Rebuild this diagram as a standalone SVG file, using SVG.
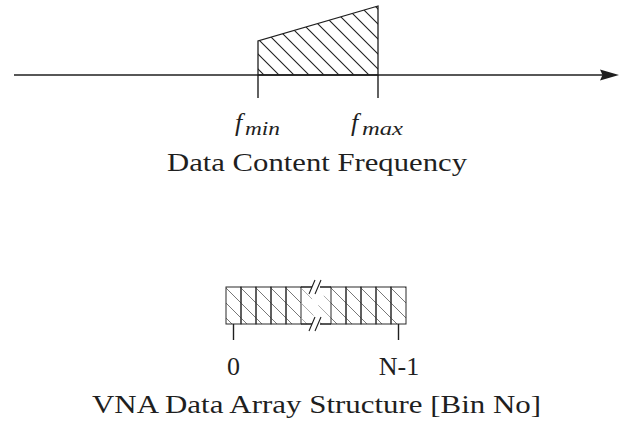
<svg xmlns="http://www.w3.org/2000/svg" width="632" height="427" viewBox="0 0 632 427">
<style>
.ln{stroke:#1f1f1f;stroke-width:1.4;fill:none}
.cell{stroke:#2a2a2a;stroke-width:1;fill:url(#hatchA)}
.txt{font-family:"Liberation Serif","Times New Roman",serif;font-size:26px;fill:#1f1f1f}
.mi{font-family:"Liberation Serif","Times New Roman",serif;font-style:italic;fill:#1f1f1f}
</style>
<defs>
<pattern id="hatchT" patternUnits="userSpaceOnUse" x="9" y="0" width="15" height="15">
<path d="M-3,-3 L18,18 M-3,12 L3,18 M12,-3 L18,3" stroke="#1f1f1f" stroke-width="1.1"/>
</pattern>
<pattern id="hatchA" patternUnits="userSpaceOnUse" x="13" y="0" width="15" height="15">
<path d="M-3,-3 L18,18 M-3,12 L3,18 M12,-3 L18,3" stroke="#555" stroke-width="0.8"/>
</pattern>
<pattern id="hatchG" patternUnits="userSpaceOnUse" x="13" y="0" width="15" height="15">
<path d="M-3,-3 L18,18 M-3,12 L3,18 M12,-3 L18,3" stroke="#999" stroke-width="0.8"/>
</pattern>
</defs>

<g id="connectors">
<line class="ln" x1="14" y1="75" x2="603" y2="75" stroke-width="1.6"/>
<path d="M619,75 L600,69.5 L602.5,75 L600,80.5 Z" fill="#1f1f1f"/>
<line class="ln" x1="258" y1="75" x2="258" y2="98"/>
<line class="ln" x1="378" y1="75" x2="378" y2="98"/>
</g>

<g id="spectrum">
<polygon points="258,75 258,41 378,6 378,75" fill="url(#hatchT)" stroke="#1f1f1f" stroke-width="1.3"/>
</g>

<g id="label-fmin">
<text class="mi" x="235" y="131" font-size="26">f</text>
<text class="mi" x="245" y="135" font-size="18" textLength="35" lengthAdjust="spacingAndGlyphs">min</text>
</g>
<g id="label-fmax">
<text class="mi" x="351" y="131" font-size="26">f</text>
<text class="mi" x="362" y="135" font-size="18" textLength="41" lengthAdjust="spacingAndGlyphs">max</text>
</g>
<g id="title-freq">
<text class="txt" x="167" y="171" textLength="300" lengthAdjust="spacingAndGlyphs">Data Content Frequency</text>
</g>

<g id="array">
<rect x="226" y="287" width="15" height="37" class="cell"/>
<rect x="241" y="287" width="15" height="37" class="cell"/>
<rect x="256" y="287" width="15" height="37" class="cell"/>
<rect x="271" y="287" width="15" height="37" class="cell"/>
<rect x="286" y="287" width="15" height="37" class="cell"/>
<rect x="301" y="287" width="30" height="37" fill="url(#hatchG)" stroke="none"/>
<rect x="331" y="287" width="15" height="37" class="cell"/>
<rect x="346" y="287" width="15" height="37" class="cell"/>
<rect x="361" y="287" width="15" height="37" class="cell"/>
<rect x="376" y="287" width="15" height="37" class="cell"/>
<rect x="391" y="287" width="15" height="37" class="cell"/>
<polygon points="312,287 320,287 324,296 318,305 323,314 320,324 311,324 314,314 309,305 314,296" fill="#fff"/>
<path d="M301,287 H312 M320,287 H331 M301,324 H312 M320,324 H331" stroke="#1f1f1f" stroke-width="1.3" fill="none"/>
<path d="M309,294 L315,280 M315,294 L321,280 M309,331 L315,317 M315,331 L321,317" stroke="#1f1f1f" stroke-width="1.1" fill="none"/>
<line class="ln" x1="233.5" y1="324" x2="233.5" y2="340" stroke-width="1"/>
<line class="ln" x1="398.5" y1="324" x2="398.5" y2="340" stroke-width="1"/>
</g>

<g id="label-0">
<text class="txt" x="233.5" y="375" text-anchor="middle">0</text>
</g>
<g id="label-n1">
<text class="txt" x="399" y="375" text-anchor="middle">N-1</text>
</g>
<g id="title-array">
<text class="txt" x="92" y="413" textLength="449" lengthAdjust="spacingAndGlyphs">VNA Data Array Structure [Bin No]</text>
</g>
</svg>
